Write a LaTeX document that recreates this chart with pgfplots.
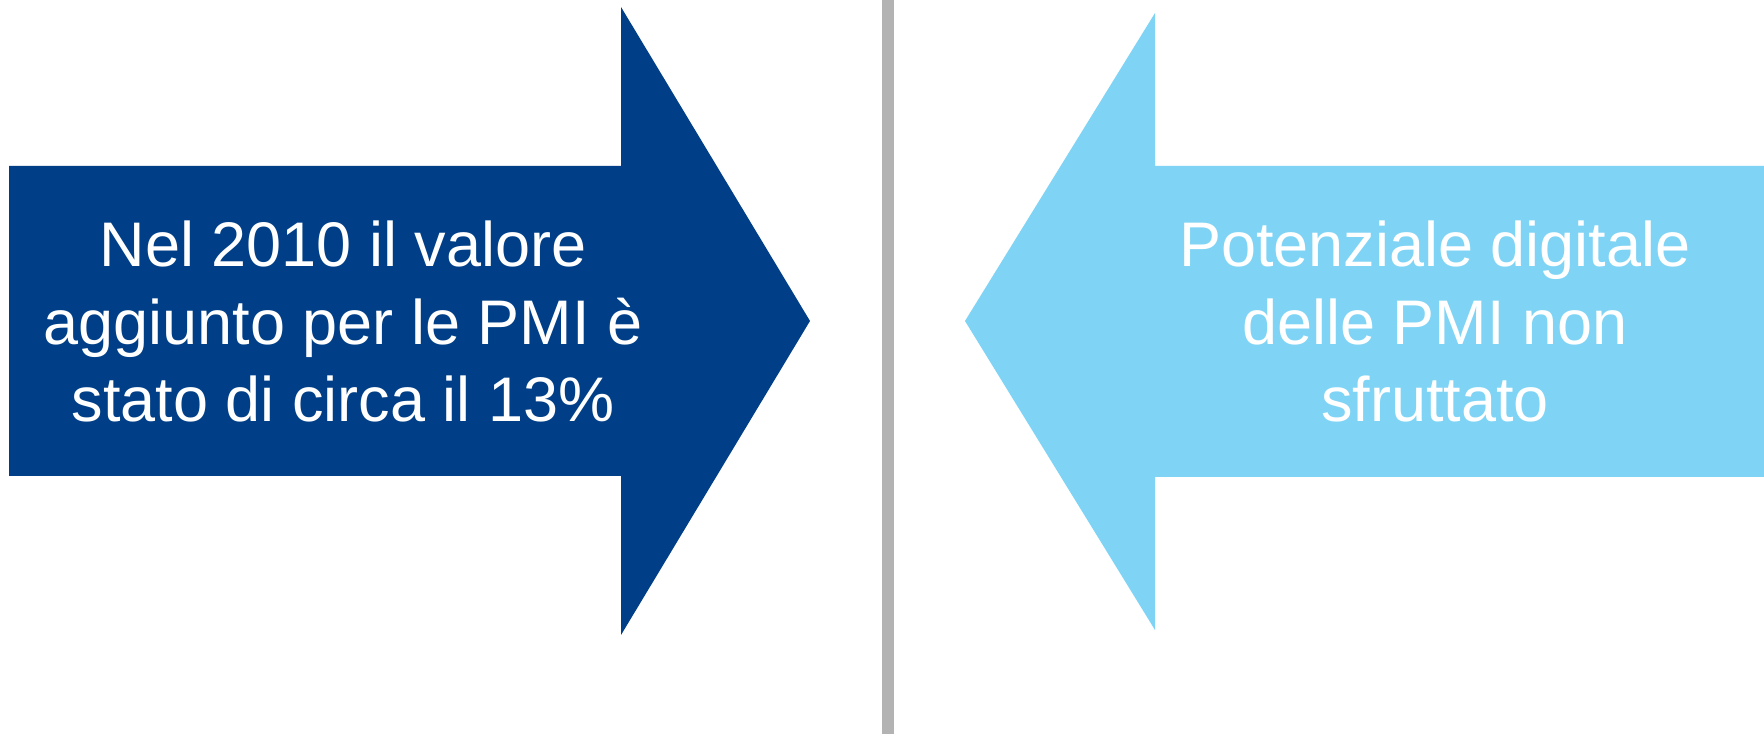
\documentclass[border=0pt]{standalone}
\usepackage{pgfplots}
\pgfplotsset{compat=1.18}
\usepackage{fontspec}
\setmainfont{Liberation Sans}
\definecolor{darkarrow}{HTML}{003F87}
\definecolor{lightarrow}{HTML}{7FD4F5}
\definecolor{divider}{HTML}{B3B3B3}

\tikzset{arrowtext/.style={font=\fontsize{15.75}{19.5}\selectfont, text=white, anchor=base, inner sep=0pt}}

\begin{document}
\begin{tikzpicture}
  \begin{axis}[
      hide axis,
      scale only axis,
      width=441pt, height=183.5pt,
      xmin=0, xmax=1764, ymin=0, ymax=734,
      y dir=reverse,
      clip=false,
    ]
    % background keeps the page the full size
    \addplot[draw=none, fill=white] coordinates {(0,0) (1764,0) (1764,734) (0,734)} -- cycle;

    % divider
    \addplot[draw=none, fill=divider] coordinates {(882,0) (894,0) (894,734) (882,734)} -- cycle;

    % right-pointing arrow
    \addplot[draw=none, fill=darkarrow] coordinates {
      (9,166) (621,166) (621,7) (810,321) (621,635) (621,476) (9,476)
    } -- cycle;

    % left-pointing arrow
    \addplot[draw=none, fill=lightarrow] coordinates {
      (1764,166) (1155,166) (1155,13) (965,321) (1155,630) (1155,477) (1764,477)
    } -- cycle;

    \node[arrowtext] at (axis cs:343,267) {Nel 2010 il valore};
    \node[arrowtext] at (axis cs:343,345) {aggiunto per le PMI è};
    \node[arrowtext] at (axis cs:343,422) {stato di circa il 13\%};

    \node[arrowtext] at (axis cs:1435,267) {Potenziale digitale};
    \node[arrowtext] at (axis cs:1435,345) {delle PMI non};
    \node[arrowtext] at (axis cs:1435,422) {sfruttato};
  \end{axis}
\end{tikzpicture}
\end{document}
